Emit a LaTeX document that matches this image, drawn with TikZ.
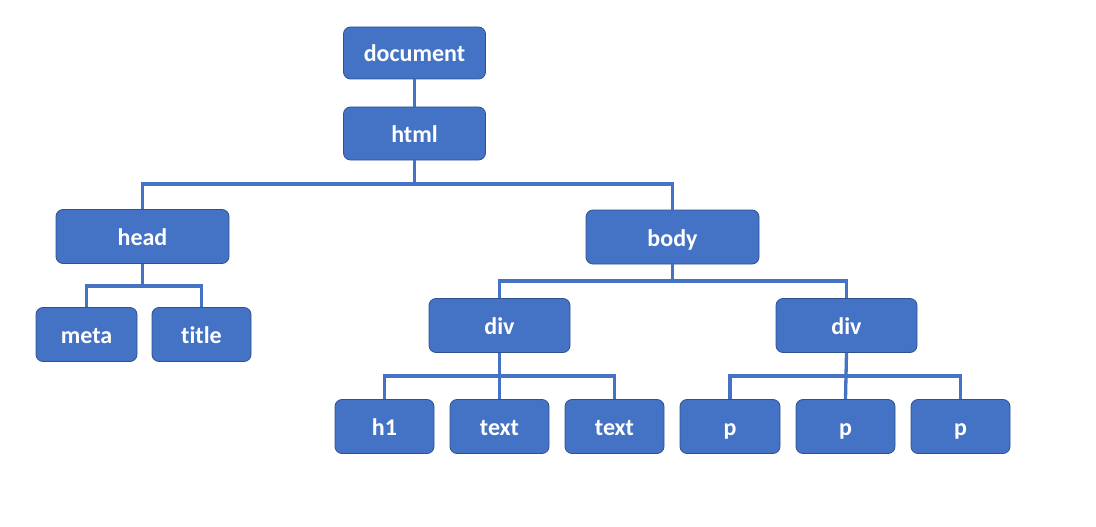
\documentclass[tikz,border=0pt]{standalone}
\usepackage{fontspec}
\setmainfont{Carlito}[Ligatures=NoCommon]
\definecolor{boxfill}{HTML}{4472C4}
\definecolor{boxline}{HTML}{2F528F}
\begin{document}
\begin{tikzpicture}[x=1pt,y=-1pt,
  box/.style={draw=boxline,line width=0.8pt,fill=boxfill,rounded corners=7pt,text=white,
    font=\fontsize{24}{28}\selectfont\bfseries,inner sep=0pt,minimum height=54pt,
    text height=18pt,text depth=0pt},
  wbig/.style={minimum width=142pt},
  whead/.style={minimum width=173pt},
  wsmall/.style={minimum width=99pt},
  conn/.style={draw=boxfill,line width=3.3pt}]
\useasboundingbox (0,0) rectangle (1096,527);
\node[box,wbig,minimum height=52pt] (document) at (414.5,53) {document};
\node[box,wbig,minimum height=53pt] (html) at (414.5,133.5) {html};
\node[box,whead] (head) at (142.5,236.5) {head};
\node[box,whead] (body) at (672.5,237) {body};
\node[box,wsmall,minimum width=101pt] (meta) at (86.5,334.5) {meta};
\node[box,wsmall] (title) at (201.5,334.5) {title};
\node[box,minimum width=141pt] (div1) at (499.5,325.5) {div};
\node[box,minimum width=141pt] (div2) at (846.5,325.5) {div};
\node[box,wsmall] (h1) at (384.5,426.5) {h1};
\node[box,wsmall] (t1) at (499.5,426.5) {text};
\node[box,wsmall] (t2) at (614.5,426.5) {text};
\node[box,wsmall,minimum width=100pt] (p1) at (730,426.5) {p};
\node[box,wsmall] (p2) at (845.5,426.5) {p};
\node[box,wsmall] (p3) at (960.5,426.5) {p};
\coordinate (j1) at (414.5,184);
\coordinate (j2) at (142.5,286);
\coordinate (j3) at (672.5,281);
\coordinate (j4) at (499.5,376);
\coordinate (j5) at (846.5,376);
\draw[conn] (document.south) -- (html.north);
\draw[conn] (html.south) -- (j1);
\draw[conn] (head.north) |- (j1) -| (body.north);
\draw[conn] (head.south) -- (j2);
\draw[conn] (meta.north) |- (j2) -| (title.north);
\draw[conn] (body.south) -- (j3);
\draw[conn] (div1.north) |- (j3) -| (div2.north);
\draw[conn] (div1.south) -- (t1.north);
\draw[conn] (h1.north) |- (j4) -| (t2.north);
\draw[conn] (div2.south) -- (p2.north);
\draw[conn] (p1.north) |- (j5) -| (p3.north);
\end{tikzpicture}
\end{document}
